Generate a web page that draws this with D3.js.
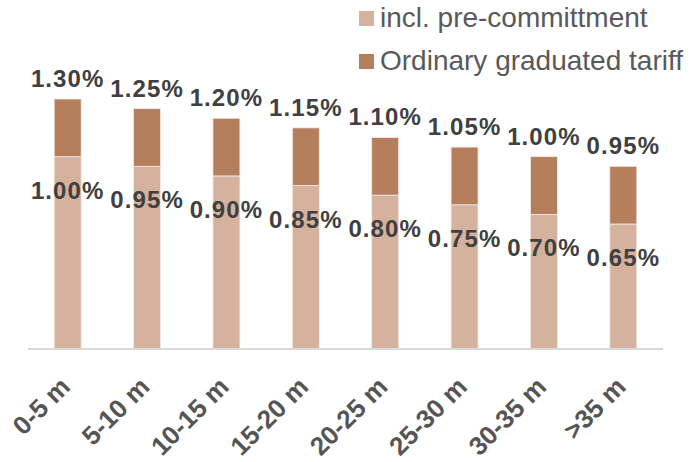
<!DOCTYPE html>
<html>
<head>
<meta charset="utf-8">
<script src="https://cdn.jsdelivr.net/npm/d3@7"></script>
<style>
  html, body { margin: 0; padding: 0; background: #ffffff; }
  svg { display: block; }
</style>
</head>
<body>
<svg id="chart" width="692" height="462"></svg>
<script>
// Tariff bands by distance
const categories = ["0-5 m", "5-10 m", "10-15 m", "15-20 m", "20-25 m", "25-30 m", "30-35 m", ">35 m"];
// Rate with pre-commitment (lower segment), in %
const preCommitment = [1.00, 0.95, 0.90, 0.85, 0.80, 0.75, 0.70, 0.65];
// Ordinary graduated tariff (total bar height), in %
const ordinaryTariff = [1.30, 1.25, 1.20, 1.15, 1.10, 1.05, 1.00, 0.95];
const seriesNames = ["incl. pre-committment", "Ordinary graduated tariff"];
const colors = ["#d4b29d", "#b57f5d"];

const svg = d3.select("#chart");
const baseY = 349;
const fontFamily = "'Liberation Sans', Arial, sans-serif";

const x = d3.scaleBand()
  .domain(categories)
  .range([28, 663])
  .paddingInner(0.66)
  .paddingOuter(0.33);

const y = d3.scaleLinear()
  .domain([0, 1.4])
  .range([baseY, baseY - 1.4 * 192.3]);

const fmt = v => v.toFixed(2) + "%";

// stacked segments: lower = pre-commitment, upper = difference to ordinary tariff
const rows = categories.map((c, i) => ({ cat: c, low: preCommitment[i], total: ordinaryTariff[i] }));

const g = svg.append("g");

g.selectAll("rect.low")
  .data(rows)
  .join("rect")
  .attr("class", "low")
  .attr("x", d => x(d.cat))
  .attr("width", x.bandwidth())
  .attr("y", d => y(d.low))
  .attr("height", d => y(0) - y(d.low))
  .attr("fill", colors[0])
  .attr("stroke", "#f4ebe5")
  .attr("stroke-width", 0.8);

g.selectAll("rect.high")
  .data(rows)
  .join("rect")
  .attr("class", "high")
  .attr("x", d => x(d.cat))
  .attr("width", x.bandwidth())
  .attr("y", d => y(d.total))
  .attr("height", d => y(d.low) - y(d.total))
  .attr("fill", colors[1])
  .attr("stroke", "#f4ebe5")
  .attr("stroke-width", 0.8);

// x axis
const xAxis = svg.append("g")
  .attr("transform", `translate(0,${baseY})`)
  .call(d3.axisBottom(x).tickSize(0).tickPadding(0));
xAxis.select(".domain").attr("stroke", "#d9d9d9").attr("stroke-width", 2)
  .attr("d", `M${x.range()[0]},0H${x.range()[1]}`);
xAxis.selectAll(".tick text")
  .attr("text-anchor", "end")
  .attr("transform", `translate(${x.bandwidth() / 2 - 16},33) rotate(-45)`)
  .attr("dy", "0.35em")
  .attr("x", 0).attr("y", 0)
  .style("font-family", fontFamily)
  .style("font-weight", "bold")
  .style("font-size", "26px")
  .attr("fill", "#555555");

// value labels
const labelStyle = sel => sel
  .attr("text-anchor", "middle")
  .style("font-family", fontFamily)
  .style("font-weight", "bold")
  .style("font-size", "24px")
  .style("letter-spacing", "1.1px")
  .attr("fill", "#404040");

g.selectAll("text.total")
  .data(rows)
  .join("text")
  .attr("class", "total")
  .attr("x", d => x(d.cat) + x.bandwidth() / 2)
  .attr("y", d => y(d.total) - 12)
  .text(d => fmt(d.total))
  .call(labelStyle);

g.selectAll("text.low")
  .data(rows)
  .join("text")
  .attr("class", "low")
  .attr("x", d => x(d.cat) + x.bandwidth() / 2)
  .attr("y", d => y(d.low) + 42)
  .text(d => fmt(d.low))
  .call(labelStyle);

// legend
const legend = svg.append("g").attr("transform", "translate(359,11)");
seriesNames.forEach((name, i) => {
  const row = legend.append("g").attr("transform", `translate(0,${i * 43})`);
  row.append("rect").attr("width", 15).attr("height", 15).attr("fill", colors[i]);
  row.append("text")
    .attr("x", 21)
    .attr("y", 15.5)
    .text(name)
    .style("font-family", fontFamily)
    .style("font-size", "28px")
    .attr("fill", "#595959");
});
</script>
</body>
</html>
